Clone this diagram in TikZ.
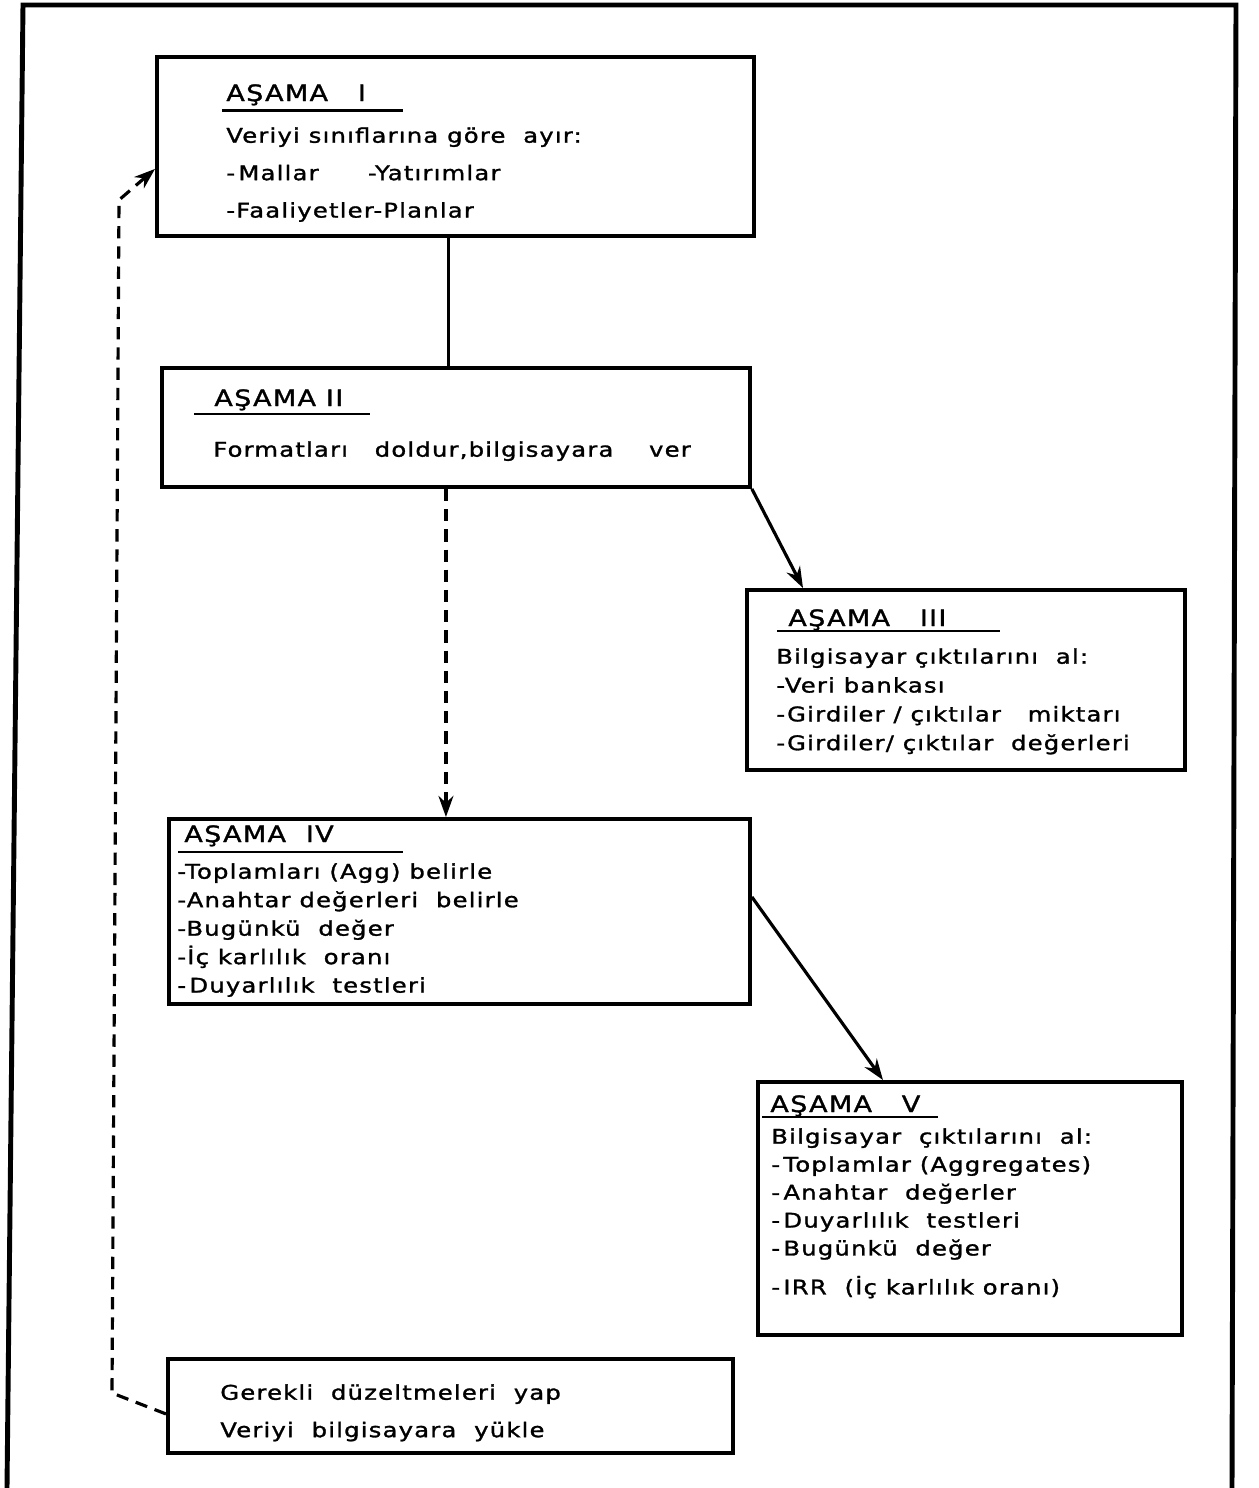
\documentclass[tikz,border=0pt]{standalone}
\usepackage{fontspec}
\setmainfont{DejaVu Sans}[FakeStretch=1.2, LetterSpace=6, FakeBold=1.4]
\usetikzlibrary{arrows.meta, positioning, calc}

\begin{document}
\begin{tikzpicture}[
    x=0.2mm, y=-0.2mm,
    font=\fontsize{11.5}{14}\selectfont,
    stage/.style={rectangle, draw=black, line width=2.2pt, anchor=north west,
                  inner sep=0pt},
    title/.style={anchor=base west, inner sep=0pt, font=\fontsize{12.8}{14}\selectfont},
    body/.style={anchor=north west, inner sep=0pt, align=left},
    uline/.style={line width=1.3pt},
    link/.style={line width=1.9pt},
    arrow/.style={->, >={Stealth[length=12pt, width=8.5pt]}, line width=1.8pt},
    dasharrow/.style={arrow, dash pattern=on 7pt off 4.5pt},
    frame/.style={line width=2.8pt}
]
\useasboundingbox (0,0) rectangle (1259,1488);

%% --- OUTER FRAME ---
\draw[frame] (7,1488) -- (23,5) -- (1236,5) -- (1232,1488);

%% --- ASAMA I ---
\node[stage, minimum width=119.4mm, minimum height=35.8mm] (asama1) at (155,55) {};
\node[title] (t1) at (226,101) {AŞAMA\ \ \ I};
\draw[uline] (222,110.5) -- (403,110.5);
\node[body, font=\fontsize{11.5}{21.3}\selectfont] (b1) at (226,127)
    {Veriyi sınıflarına göre\ \ ayır:\\
     -\,Mallar\qquad\ -Yatırımlar\\
     -Faaliyetler-Planlar};

%% --- ASAMA II ---
\node[stage, minimum width=117.6mm, minimum height=23.8mm] (asama2) at (160,366) {};
\node[title] (t2) at (214,406) {AŞAMA II};
\draw[uline] (194,414) -- (370,414);
\node[body] (b2) at (213,441) {Formatları\ \ \ doldur,bilgisayara\ \ \ \ ver};

%% --- ASAMA III ---
\node[stage, minimum width=87.6mm, minimum height=36mm] (asama3) at (745,588) {};
\node[title] (t3) at (788,626) {AŞAMA\ \ \ III};
\draw[uline] (777,631) -- (1000,631);
\node[body, font=\fontsize{11.5}{16.4}\selectfont] (b3) at (776,648)
    {Bilgisayar çıktılarını\ \ al:\\
     -Veri bankası\\
     -Girdiler / çıktılar\ \ \ miktarı\\
     -Girdiler/ çıktılar\ \ değerleri};

%% --- ASAMA IV ---
\node[stage, minimum width=116.2mm, minimum height=37mm] (asama4) at (167,817) {};
\node[title] (t4) at (184,842) {AŞAMA\ \ IV};
\draw[uline] (178,852) -- (403,852);
\node[body, font=\fontsize{11.5}{16.2}\selectfont] (b4) at (177,863)
    {-Toplamları (Agg) belirle\\
     -Anahtar değerleri\ \ belirle\\
     -Bugünkü\ \ değer\\
     -İç\ karlılık\ \ oranı\\
     -\,Duyarlılık\ \ testleri};

%% --- ASAMA V ---
\node[stage, minimum width=84.8mm, minimum height=50.6mm] (asama5) at (756,1080) {};
\node[title] (t5) at (770,1112) {AŞAMA\ \ \ V};
\draw[uline] (762,1117) -- (938,1117);
\node[body, font=\fontsize{11.5}{15.9}\selectfont] (b5) at (771,1128)
    {Bilgisayar\ \ çıktılarını\ \ al:\\
     -\,Toplamlar (Aggregates)\\
     -\,Anahtar\ \ değerler\\
     -\,Duyarlılık\ \ testleri\\
     -\,Bugünkü\ \ değer\\[2.2mm]
     -\,IRR\ \ (İç karlılık oranı)};

%% --- DUZELTME ---
\node[stage, minimum width=113mm, minimum height=18.8mm] (duzelt) at (166,1357) {};
\node[body, font=\fontsize{11.5}{21.3}\selectfont] (b6) at (220,1384)
    {Gerekli\ \ düzeltmeleri\ \ yap\\
     Veriyi\ \ bilgisayara\ \ yükle};

%% --- CONNECTORS ---
\coordinate (fbA) at (112,1393);
\coordinate (fbB) at (119,200);

\draw[link] ([xshift=-1.4mm]asama1.south) -- ([xshift=-1.4mm]asama1.south |- asama2.north);
\draw[dasharrow] ([xshift=-2mm]asama2.south) -- ([xshift=-2mm]asama2.south |- asama4.north);
\draw[arrow] (asama2.south east) -- ([xshift=11.6mm]asama3.north west);
\draw[arrow] ([yshift=2.9mm]asama4.east) -- ([xshift=25.4mm]asama5.north west);
\draw[dasharrow] ([yshift=-1.6mm]duzelt.west) -- (fbA) -- (fbB)
    -- ([yshift=-4.5mm]asama1.west);

\end{tikzpicture}
\end{document}
